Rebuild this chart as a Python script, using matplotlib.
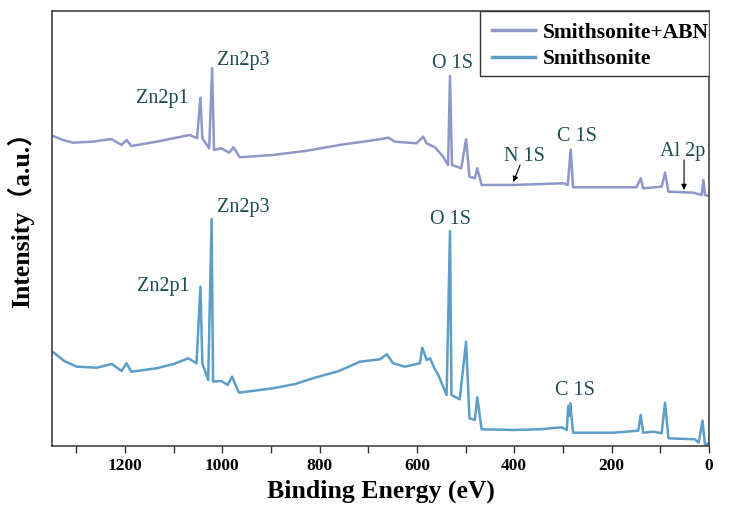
import matplotlib
matplotlib.use("Agg")
import matplotlib.pyplot as plt
from matplotlib.ticker import MultipleLocator
from matplotlib.patches import Rectangle

plt.rcParams["font.family"] = ["Liberation Serif", "Noto Sans CJK SC"]

# Smithsonite + ABN (upper curve)
abn_energy = [1348, 1328, 1307, 1266, 1228, 1207, 1197, 1187, 1135, 1067, 1052, 1045, 1041,
              1027, 1021, 1017, 1002, 986, 977, 964, 896, 830, 759, 676, 659, 645, 601, 587,
              580, 563, 546, 536, 532, 528, 509, 499, 492, 481, 476, 467, 402, 299, 290,
              284, 279, 149, 140, 135, 97, 90, 83, 32, 15, 11, 8, 1]
abn_intensity = [310, 306, 303.3, 304.3, 307, 301, 306, 300, 304.3, 311, 307.7, 348.3, 307.7,
                 297.7, 377.7, 296, 297.7, 293.3, 298.7, 288.7, 291, 295, 301, 306.7, 308.3,
                 304.3, 302.7, 309.3, 302.7, 298.7, 289.3, 281, 370, 281, 277.7, 306.7,
                 269.3, 267.7, 277.7, 261, 261, 262.7, 261, 296.7, 258.7, 258.7, 267.7,
                 257.7, 259.3, 273.3, 254.3, 253.3, 251, 266, 251, 250]

# Smithsonite (lower curve)
smi_energy = [1348, 1325, 1299, 1258, 1227, 1207, 1197, 1187, 1135, 1100, 1070, 1053, 1045,
              1041, 1029, 1022, 1019, 1002, 989, 980, 966, 896, 850, 814, 760, 717, 676, 662,
              649, 625, 594, 589, 580, 573, 564, 556, 539, 532, 529, 512, 499, 492, 481, 476,
              467, 402, 347, 303, 292, 289, 287, 285, 279, 196, 145, 140, 135, 114, 97, 90,
              83, 29, 21, 13, 8, 1]
smi_intensity = [94, 85, 79.3, 78.3, 82, 75, 82.7, 74.3, 77.7, 82, 87.7, 82.7, 159.3,
                 82.7, 66, 227, 64.3, 65, 61, 69.3, 53.3, 57.7, 62, 67.7, 75, 84.3, 86.7,
                 91.7, 82.7, 79.3, 82.7, 98.3, 86, 87.7, 77.7, 71, 51, 215, 51, 46.7, 104.3,
                 27.7, 26, 48.7, 16.7, 16, 16.7, 18.7, 16, 40, 30, 42.7, 13.3, 13.3, 15.3,
                 31, 13.3, 14.3, 12.7, 43.3, 7.7, 6.7, 3.3, 25.3, 1, 2.7]

# peak labels: (text, energy, intensity)
abn_labels = [("Zn2p1", 1123, 347), ("Zn2p3", 957, 385), ("O 1S", 527, 382),
              ("N 1S", 379, 289), ("C 1S", 272, 309), ("Al 2p", 53, 294)]
smi_labels = [("Zn2p1", 1122, 159), ("Zn2p3", 957, 238), ("O 1S", 530, 226),
              ("C 1S", 275, 55)]
# arrows (tail energy, tail intensity, head energy, head intensity)
arrows = [(388, 281, 402, 264), (51, 286, 51, 256)]

label_color = "#1d4e52"

fig = plt.figure(figsize=(7.38, 5.15), dpi=100)
ax = fig.add_axes([0.0705, 0.134, 0.890, 0.8447])

ax.plot(abn_energy, abn_intensity, color="#8d98c9", lw=1.8, label="Smithsonite+ABN")
ax.plot(smi_energy, smi_intensity, color="#5c9ec8", lw=1.8, label="Smithsonite")

for txt, e, i in abn_labels + smi_labels:
    ax.text(e, i, txt, ha="center", va="center", fontsize=14.5, color=label_color)

for x0, y0, x1, y1 in arrows:
    ax.annotate("", xy=(x1, y1), xytext=(x0, y0),
                arrowprops=dict(arrowstyle="-|>", color="k", lw=0.8, mutation_scale=8,
                                shrinkA=0, shrinkB=0))

ax.set_xlim(1350, 0)
ax.set_ylim(0, 435)
ax.set_yticks([])
ax.xaxis.set_major_locator(MultipleLocator(200))
ax.xaxis.set_minor_locator(MultipleLocator(100))
ax.tick_params(axis="x", which="both", direction="out", length=5, width=1, color="#333333")
for lbl in ax.get_xticklabels():
    lbl.set_fontweight("bold")
    lbl.set_fontsize(12.5)
for sp in ax.spines.values():
    sp.set_color("#333333")
    sp.set_linewidth(1.1)

ax.set_xlabel("Binding Energy (eV)", fontsize=18.5, fontweight="bold", labelpad=4)
ax.set_ylabel("Intensity（a.u.）", fontsize=18.5, fontweight="bold")
ax.yaxis.set_label_coords(-0.027, 0.535)

# legend box, tight at the right edge like the original
leg_left = 0.6514
ax.add_patch(Rectangle((leg_left, 0.85), 1 - leg_left, 0.15, transform=ax.transAxes,
                       facecolor="white", edgecolor="#333333", lw=1.0, zorder=4))
leg = ax.legend(loc="upper left", bbox_to_anchor=(leg_left, 1), borderaxespad=0,
                frameon=False, prop={"weight": "bold", "size": 15.5}, handlelength=2.0,
                handletextpad=0.37, labelspacing=0.3, borderpad=0.54)
leg.set_zorder(5)
for h in leg.legend_handles:
    h.set_linewidth(2.5)

plt.savefig("out.png", dpi=100)
